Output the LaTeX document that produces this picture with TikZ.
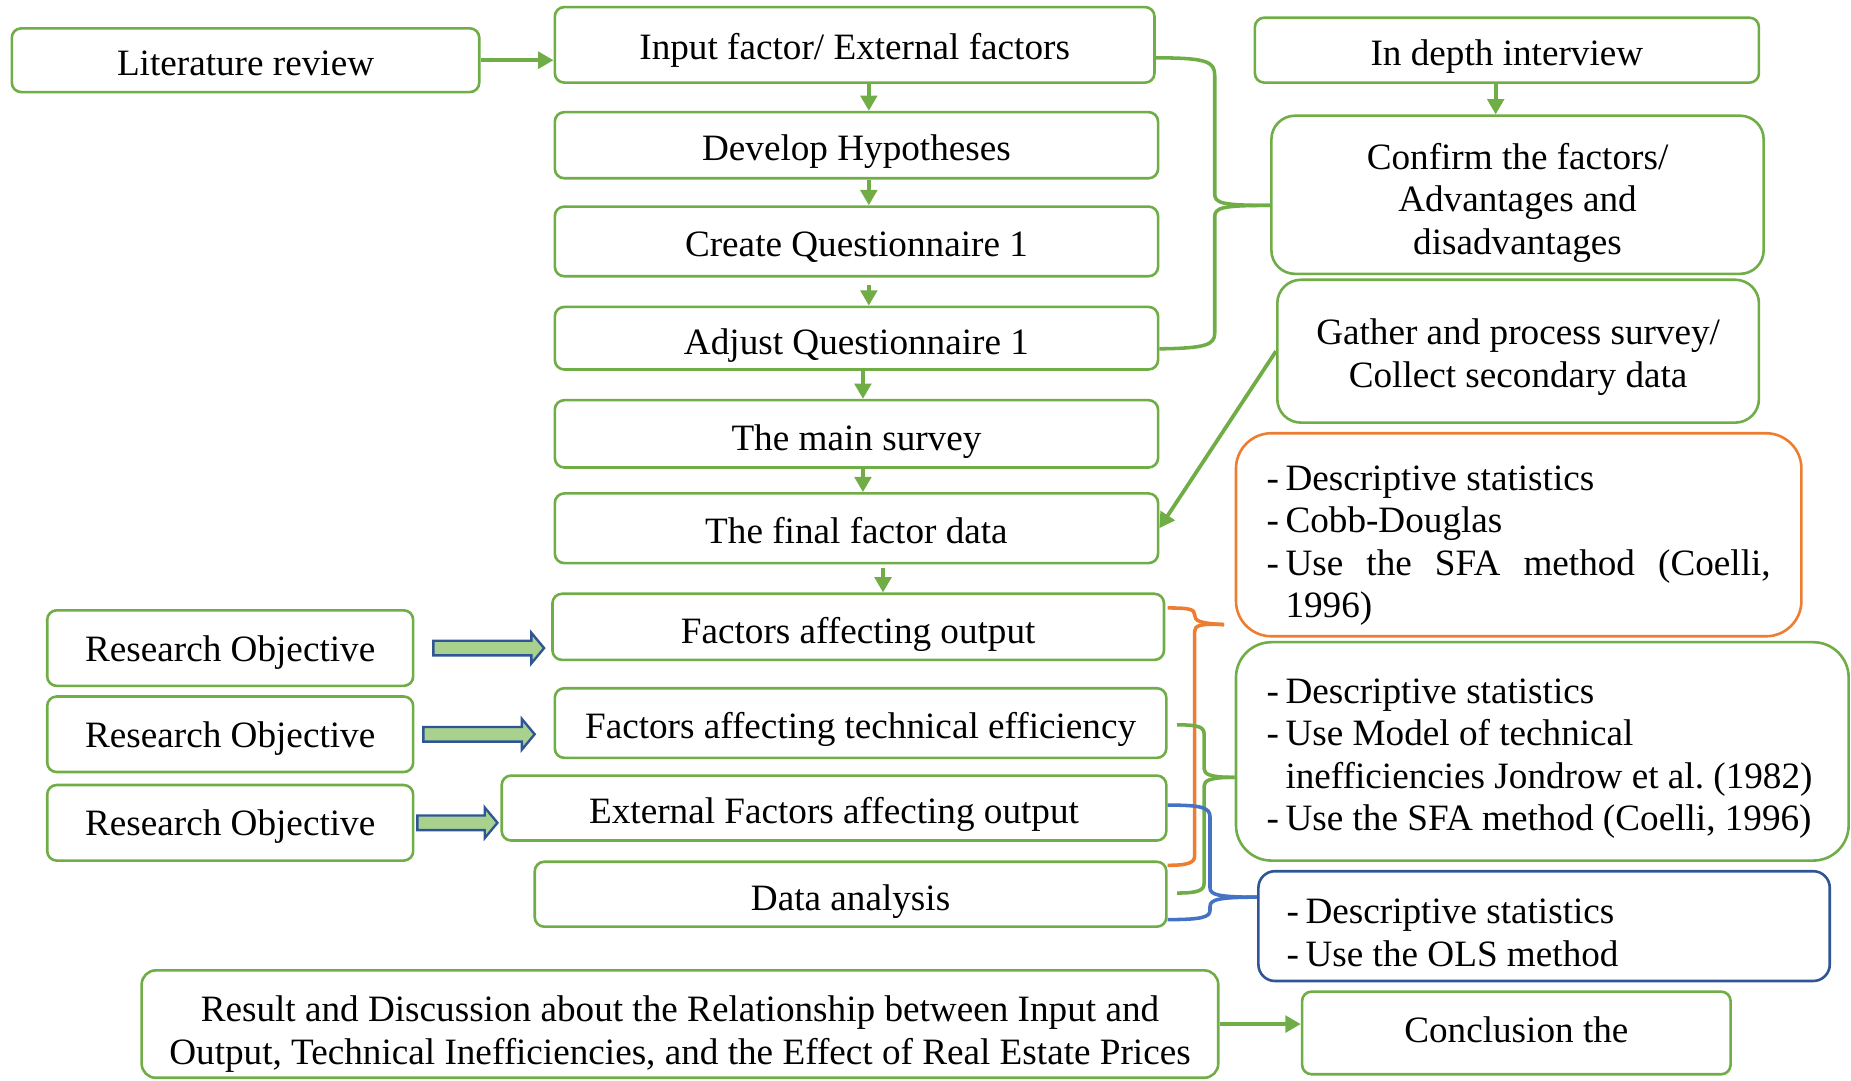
\documentclass[tikz,border=0pt]{standalone}
\usepackage{fontspec}
\setmainfont{Liberation Serif}
\usetikzlibrary{arrows.meta,calc}
\definecolor{boxgreen}{HTML}{70AD47}
\definecolor{brorange}{HTML}{ED7D31}
\definecolor{brblue}{HTML}{4472C4}
\definecolor{boxblue}{HTML}{2F5597}
\definecolor{arrowfill}{HTML}{A9D18E}
\tikzset{
  stage/.style={draw=boxgreen, line width=1.1pt, rounded corners=4pt, align=center, inner sep=2pt,
    text height=16pt, text depth=3pt},
  bigstage/.style={stage, rounded corners=10pt},
  listbox/.style={draw=#1, line width=1.1pt, rounded corners=15pt, align=flush left, inner xsep=13pt, inner ysep=0pt},
  flow/.style={draw=boxgreen, line width=1.6pt, -{Triangle[length=6.5pt,width=7pt]}},
  brace/.style={draw=#1, line width=1.5pt, line join=round},
  blockarrow/.style={fill=arrowfill, draw=boxblue, line width=1pt},
}
\newcommand{\blockarrow}[2]{%
  \filldraw[blockarrow] let \p1=#1, \p2=#2 in
    (\x1,\y1+3.1pt) -- (\x2-5.4pt,\y1+3.1pt) -- (\x2-5.4pt,\y1+6.5pt) -- (\x2,\y1)
    -- (\x2-5.4pt,\y1-6.5pt) -- (\x2-5.4pt,\y1-3.1pt) -- (\x1,\y1-3.1pt) -- cycle;}

\begin{document}
\frenchspacing
\begin{tikzpicture}[x=0.5pt, y=-0.5pt, font=\fontsize{15.75}{18}\selectfont]
  \useasboundingbox (0,0) rectangle (1568,915);

  % Define boxes
  \node[stage, minimum width=198pt, minimum height=27pt] (lit) at (208,51) {Literature review};
  \node[stage, minimum width=254pt, minimum height=32pt, text height=15pt] (input) at (724,38) {Input factor/ External factors};
  \node[stage, minimum width=255.5pt, minimum height=28pt] (hypo) at (725.5,123) {Develop Hypotheses};
  \node[stage, minimum width=255.5pt, minimum height=29.5pt] (createq) at (725.5,204.5) {Create Questionnaire 1};
  \node[stage, minimum width=255.5pt, minimum height=26.5pt, text height=17pt] (adjustq) at (725.5,286.5) {Adjust Questionnaire 1};
  \node[stage, minimum width=255.5pt, minimum height=28.5pt, text height=17pt] (survey) at (725.5,367.5) {The main survey};
  \node[stage, minimum width=255.5pt, minimum height=29.5pt] (final) at (725.5,447.5) {The final factor data};
  \node[stage, minimum width=259pt, minimum height=28pt, text height=17pt] (outfac) at (727,531) {Factors affecting output};
  \node[stage, minimum width=259pt, minimum height=29.5pt] (techeff) at (729,612.5) {Factors affecting technical efficiency};
  \node[stage, minimum width=281.5pt, minimum height=27.5pt] (extfac) at (706.5,684.5) {External Factors affecting output};
  \node[stage, minimum width=267.5pt, minimum height=27.5pt, text height=17pt] (analysis) at (720.5,757.5) {Data analysis};
  \node[stage, rounded corners=6pt, minimum width=456pt, minimum height=45.5pt, text height=17.1pt, text depth=18.9pt] (result) at (576,867.5)
    {\begin{tabular}[t]{@{}c@{}}Result and Discussion about the Relationship between Input and\\Output, Technical Inefficiencies, and the Effect of Real Estate Prices\end{tabular}};
  \node[stage, minimum width=181.5pt, minimum height=35pt, text height=10.8pt] (concl) at (1284.5,875) {Conclusion the};
  \node[stage, minimum width=213.5pt, minimum height=27.5pt] (interview) at (1276.5,42.5) {In depth interview};
  \node[bigstage, minimum width=208.5pt, minimum height=67pt, text height=16.1pt, text depth=37.9pt] (confirm) at (1285.5,165)
    {\begin{tabular}[t]{@{}c@{}}Confirm the factors/\\Advantages and\\disadvantages\end{tabular}};
  \node[bigstage, minimum width=204pt, minimum height=60.5pt, text height=15.35pt, text depth=20.65pt] (gather) at (1286,297.5)
    {\begin{tabular}[t]{@{}c@{}}Gather and process survey/\\Collect secondary data\end{tabular}};
  \node[stage, minimum width=155pt, minimum height=32pt, text height=14pt] (ro1) at (195,549) {Research Objective};
  \node[stage, minimum width=155pt, minimum height=32pt, text height=14pt] (ro2) at (195,622) {Research Objective};
  \node[stage, minimum width=155pt, minimum height=32pt, text height=14pt] (ro3) at (195,697) {Research Objective};

  % Method boxes
  \node[listbox=brorange, text width=213.5pt, minimum height=86pt, text height=17.1pt, text depth=54.9pt] (cobb) at (1286.5,453) {%
    \begin{tabular}[t]{@{}l@{\hspace{2.75pt}}l@{}}
      -&Descriptive statistics\\
      -&Cobb-Douglas\\
      -&\makebox[205.5pt][s]{Use the SFA method (Coelli,}\\
       &1996)
    \end{tabular}};
  \node[listbox=boxgreen, text width=233.5pt, minimum height=92.5pt, text height=15.6pt, text depth=56.4pt] (sfa) at (1306.5,636.5) {%
    \begin{tabular}[t]{@{}l@{\hspace{2.75pt}}l@{}}
      -&Descriptive statistics\\
      -&Use Model of technical\\
       &inefficiencies Jondrow et al. (1982)\\
      -&Use the SFA method (Coelli, 1996)
    \end{tabular}};
  \node[listbox=boxblue, rounded corners=7pt, inner xsep=12pt, text width=218pt, minimum height=46.5pt, text height=17.1pt, text depth=18.9pt] (ols) at (1308,784.5) {%
    \begin{tabular}[t]{@{}l@{\hspace{2.75pt}}l@{}}
      -&Descriptive statistics\\
      -&Use the OLS method
    \end{tabular}};

  % Draw arrows
  \coordinate (colA) at (736,0);
  \coordinate (colB) at (731,0);
  \coordinate (colC) at (748,0);
  \coordinate (colD) at (1267,0);
  \draw[flow] (lit.east) -- (lit.east -| input.west);
  \draw[flow] (input.south -| colA) -- (hypo.north -| colA);
  \draw[flow] (hypo.south -| colA) -- (createq.north -| colA);
  \draw[flow] ($(createq.south -| colA)+(0,6)$) -- (adjustq.north -| colA);
  \draw[flow] (adjustq.south -| colB) -- (survey.north -| colB);
  \draw[flow] (survey.south -| colB) -- (final.north -| colB);
  \draw[flow] ($(final.south -| colC)+(0,3)$) -- (outfac.north -| colC);
  \draw[flow] (interview.south -| colD) -- (confirm.north -| colD);
  \draw[flow] (gather.west) -- (final.east);
  \draw[flow] (result.east) -- (result.east -| concl.west);

  \blockarrow{($(ro1.east)+(16,0)$)}{($(outfac.west)+(-6,0)$)}
  \blockarrow{($(ro2.east)+(7.5,0)$)}{($(techeff.west)+(-16,0)$)}
  \blockarrow{($(ro3.east)+(2.5,0)$)}{($(extfac.west)+(-2.5,0)$)}

  % Draw braces
  \draw[brace=boxgreen] ($(input.east)+(0,11)$) .. controls (1022,49) and (1029,52) .. (1029,64)
    -- (1029,164) .. controls (1029,172) and (1034,174) .. ($(confirm.west)+(0,9)$);
  \draw[brace=boxgreen] ($(adjustq.east)+(0,9)$) .. controls (1022,295) and (1029,292) .. (1029,282)
    -- (1029,184) .. controls (1029,176) and (1034,174) .. ($(confirm.west)+(0,9)$);

  \coordinate (otip) at ($(cobb.south west)+(-9,-11)$);
  \draw[brace=brorange] ($(outfac.east)+(2,-16)$) .. controls (1008,515) and (1012,516) .. (1012,521)
    .. controls (1012,526) and (1016,528) .. (otip);
  \draw[brace=brorange] ($(analysis.east)+(0,-24.5)$) .. controls (1006,733) and (1012,731) .. (1012,725)
    -- (1012,535) .. controls (1012,530) and (1016,528) .. (otip);

  \draw[brace=boxgreen] ($(techeff.east)+(8,1.5)$) .. controls (1016,614) and (1020,616) .. (1020,622)
    -- (1020,651) .. controls (1020,656) and (1025,658.5) .. ($(sfa.west)+(0,22)$);
  \draw[brace=boxgreen] ($(analysis.east)+(8,-1)$) .. controls (1016,756.5) and (1020,754) .. (1020,748)
    -- (1020,666) .. controls (1020,661) and (1025,658.5) .. ($(sfa.west)+(0,22)$);

  \draw[brace=brblue] ($(extfac.east)+(0,-2.5)$) .. controls (1018,682) and (1025,684) .. (1025,692)
    -- (1025,752) .. controls (1025,758) and (1032,760) .. ($(ols.west)+(0,-24.5)$);
  \draw[brace=brblue] ($(analysis.east)+(0,21.5)$) .. controls (1018,779) and (1025,777) .. (1025,771)
    -- (1025,768) .. controls (1025,762) and (1032,760) .. ($(ols.west)+(0,-24.5)$);
\end{tikzpicture}
\end{document}
